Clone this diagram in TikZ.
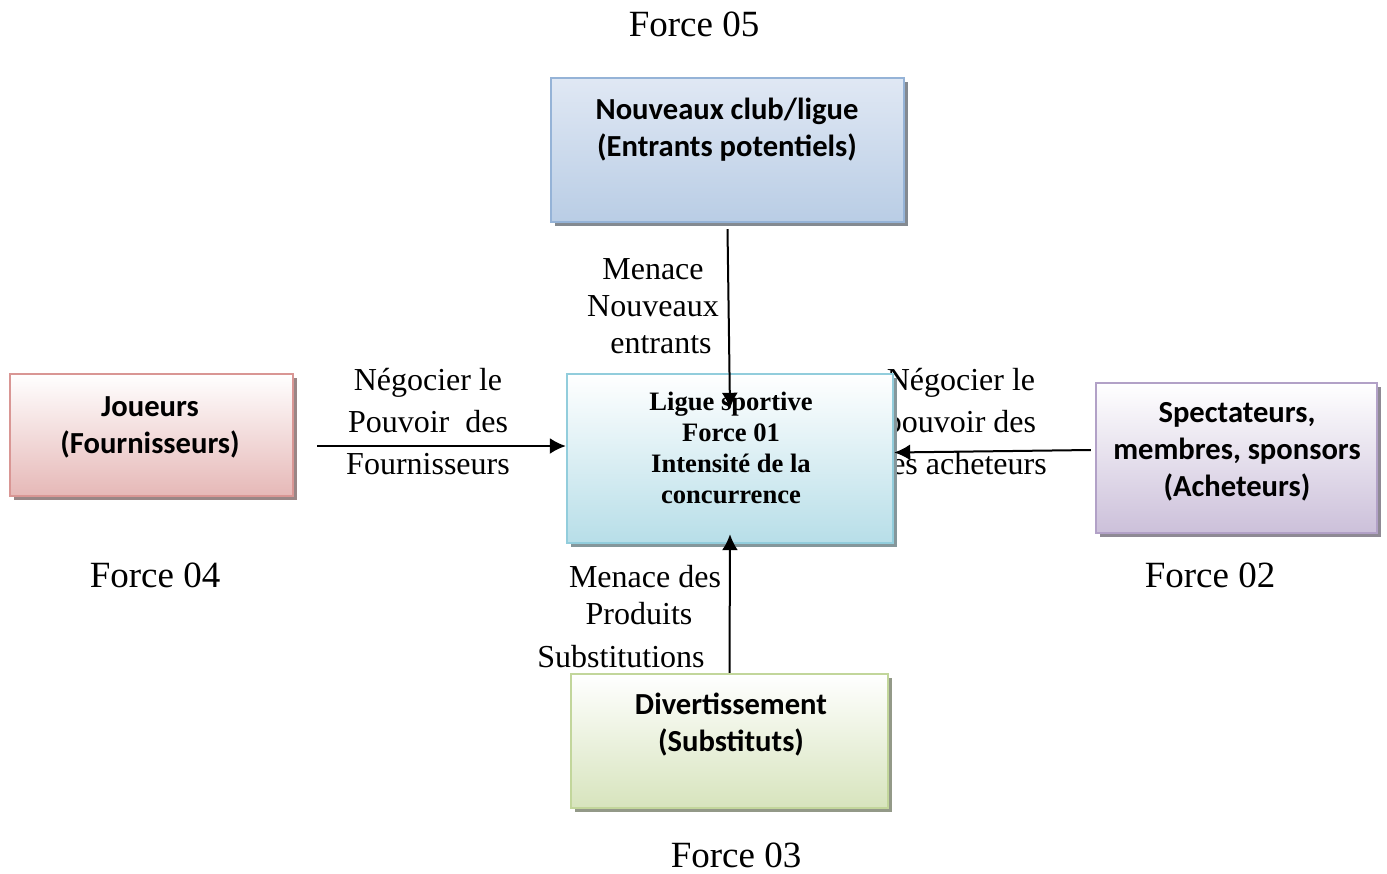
\documentclass[tikz,border=0pt]{standalone}
\usepackage{fontspec}
\setmainfont{Liberation Serif}
\newfontfamily\calibri{Carlito}
\usetikzlibrary{arrows}
\usetikzlibrary{arrows.meta}
\usetikzlibrary{positioning}
\usetikzlibrary{calc}
\usetikzlibrary{shadows}

\definecolor{bleuBord}{RGB}{149,179,215}
\definecolor{bleuHaut}{RGB}{224,232,244}
\definecolor{bleuBas}{RGB}{185,205,229}
\definecolor{rougeBord}{RGB}{217,150,148}
\definecolor{rougeBas}{RGB}{230,184,183}
\definecolor{cyanBord}{RGB}{146,205,220}
\definecolor{cyanBas}{RGB}{183,222,232}
\definecolor{violetBord}{RGB}{178,161,199}
\definecolor{violetBas}{RGB}{204,192,218}
\definecolor{vertBord}{RGB}{194,214,155}
\definecolor{vertBas}{RGB}{215,228,189}

\begin{document}
\begin{tikzpicture}[>={Latex[length=8pt,width=8pt]},semithick,x=0.5pt,y=-0.5pt]
		\tikzstyle{force}=[font=\fontsize{18.5}{22}\selectfont]
		\tikzstyle{lien}=[font=\fontsize{16}{21}\selectfont,align=center]
		\tikzstyle{boite}=[rectangle,draw,line width=1.2pt]
		\tikzstyle{texte}=[font=\calibri\bfseries\fontsize{15.3}{18.5}\selectfont,align=center]
		\tikzstyle{ombre}=[drop shadow={shadow xshift=2pt,shadow yshift=-2pt,opacity=1,fill=#1}]
		\useasboundingbox (0,0) rectangle (1387,873);
		
		% textes autour
		\node[force] (f05) at (694,24)  {Force 05};
		\node[force] (f04) at (155,575) {Force 04};
		\node[force] (f02) at (1210,575) {Force 02};
		\node[force] (f03) at (736,855) {Force 03};
		
		\node[lien,font=\fontsize{16}{18.5}\selectfont] (menNouv) at (653,306)
		{Menace\\Nouveaux\\\hspace*{8pt}entrants};
		\node[lien] (negFour) at (428,422) {Négocier le\\Pouvoir~~des\\Fournisseurs};
		\node[lien] (negAch)  at (961,422) {Négocier le\\pouvoir des\\des acheteurs};
		\node[lien] (menSub1) at (645,577) {Menace des};
		\node[lien] (menSub2) at (639,614) {Produits};
		\node[lien] (menSub3) at (621,657) {Substitutions};
		
		% boites
		\node[boite,ombre=gray!80!bleuBord,draw=bleuBord,top color=bleuHaut,bottom color=bleuBas,
		minimum width=176.5pt,minimum height=72pt] (entrants) at (727.5,150) {};
		\node[texte] (entrantsTxt) at (727,130) {Nouveaux club/ligue\\(Entrants potentiels)};
		
		\node[boite,ombre=gray!70!rougeBord,draw=rougeBord,top color=white,bottom color=rougeBas,
		minimum width=141.5pt,minimum height=61pt] (joueurs) at (151.5,435) {};
		\node[texte] (joueursTxt) at (150,427) {Joueurs\\(Fournisseurs)};
		
		\node[boite,ombre=gray!70!cyanBord,draw=cyanBord,top color=white,bottom color=cyanBas,
		minimum width=163pt,minimum height=84.5pt] (ligue) at (730,458.5) {};
		\node[align=center,font=\bfseries\fontsize{13.3}{15.5}\selectfont] (ligueTxt) at (731,448)
		{Ligue sportive\\Force 01\\Intensité de la\\concurrence};
		
		\node[boite,ombre=gray!70!violetBord,draw=violetBord,top color=white,bottom color=violetBas,
		minimum width=140.5pt,minimum height=75pt] (acheteurs) at (1236.5,458) {};
		\node[texte] (acheteursTxt) at (1237,452) {Spectateurs,\\membres, sponsors\\(Acheteurs)};
		
		\node[boite,ombre=gray!70!vertBord,draw=vertBord,top color=white,bottom color=vertBas,
		minimum width=158.5pt,minimum height=67pt] (divert) at (729.5,741) {};
		\node[texte] (divertTxt) at (731,725) {Divertissement\\(Substituts)};
		
		% fleches
		\coordinate (depFour) at (317,446);
		\path[->,line width=1pt]
		([yshift=-3pt]entrants.south) edge ([yshift=-18pt]ligue.north)
		(depFour)                     edge (ligue.west |- depFour)
		([xshift=-2pt,yshift=4pt]acheteurs.west) edge ([yshift=3pt]ligue.east)
		(divert.north)                edge ([yshift=5pt]ligue.south);
\end{tikzpicture}
\end{document}
